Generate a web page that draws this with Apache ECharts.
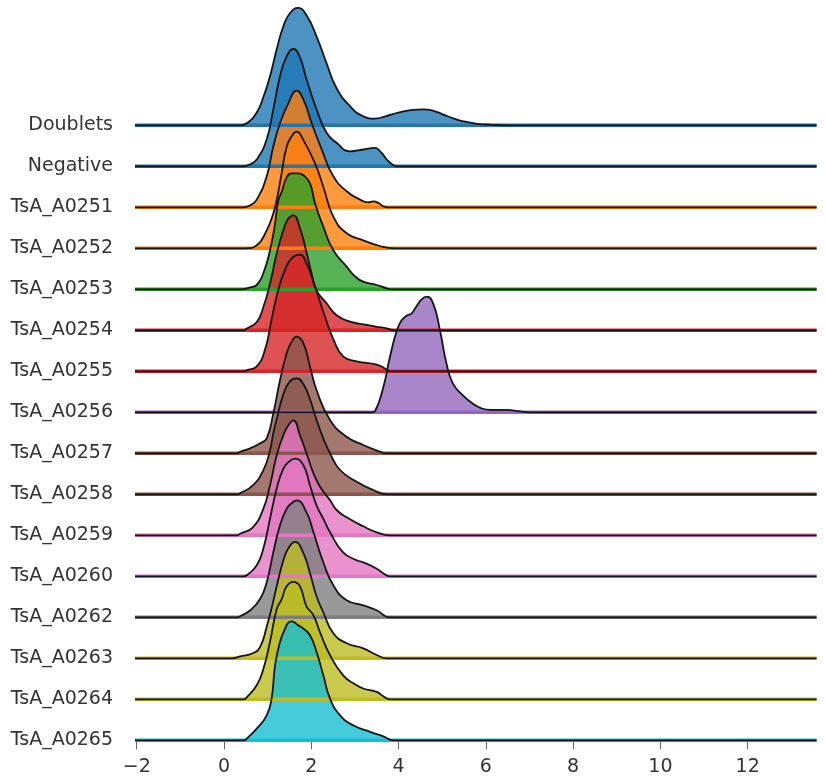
<!DOCTYPE html>
<html><head><meta charset="utf-8">
<script src="https://cdn.jsdelivr.net/npm/echarts@6/dist/echarts.min.js"></script>
<style>html,body{margin:0;padding:0;background:#fff}#c{width:825px;height:784px}</style>
</head><body><div id="c"></div>
<script>
// Row labels, top to bottom
const categories = ['Doublets','Negative','TsA_A0251','TsA_A0252','TsA_A0253','TsA_A0254','TsA_A0255','TsA_A0256',
  'TsA_A0257','TsA_A0258','TsA_A0259','TsA_A0260','TsA_A0262','TsA_A0263','TsA_A0264','TsA_A0265'];
const rowColors = ['#1f77b4','#1f77b4','#ff7f0e','#ff7f0e','#2ca02c','#d62728','#d62728','#9467bd',
  '#8c564b','#8c564b','#e377c2','#e377c2','#7f7f7f','#bcbd22','#bcbd22','#17becf'];
const X_MIN = -2.04, X_MAX = 13.58;
const xTicks = [-2, 0, 2, 4, 6, 8, 10, 12];
const ROW = 0.41; // vertical spacing between ridges, density units

// density curves as [x, density]
const doublets = [[0.37,0],[0.52,0.02],[0.75,0.127],[0.9,0.28],[1.054,0.49],[1.207,0.76],[1.36,0.99],[1.51,1.12],[1.70,1.174],[1.89,1.10],[2.12,0.89],[2.35,0.62],[2.58,0.37],[2.89,0.19],[3.19,0.09],[3.46,0.067],[3.70,0.09],[3.96,0.123],[4.25,0.15],[4.57,0.16],[4.8,0.145],[5.03,0.107],[5.25,0.07],[5.48,0.04],[5.8,0.015],[6.1,0.006],[6.5,0]];
const negative = [[0.44,0],[0.6,0.02],[0.75,0.068],[0.978,0.27],[1.13,0.57],[1.283,0.90],[1.436,1.10],[1.59,1.175],[1.74,1.09],[1.89,0.87],[2.12,0.57],[2.35,0.335],[2.58,0.235],[2.89,0.15],[3.19,0.168],[3.46,0.185],[3.6,0.14],[3.73,0.068],[3.85,0.02],[3.96,0]];
const a0251 = [[0.44,0],[0.6,0.02],[0.75,0.077],[0.978,0.31],[1.13,0.61],[1.283,0.84],[1.474,1.04],[1.665,1.167],[1.82,1.077],[2.01,0.84],[2.24,0.577],[2.505,0.31],[2.81,0.16],[3.116,0.077],[3.3,0.05],[3.42,0.06],[3.55,0.04],[3.65,0.01],[3.75,0]];
const a0252 = [[0.5,0],[0.75,0.03],[0.978,0.18],[1.13,0.35],[1.207,0.48],[1.32,0.75],[1.436,1.016],[1.55,1.12],[1.665,1.166],[1.82,1.08],[2.085,0.85],[2.275,0.616],[2.505,0.316],[2.81,0.15],[3.19,0.08],[3.57,0.023],[3.88,0]];
const a0253 = [[0.37,0],[0.6,0.02],[0.75,0.043],[0.90,0.16],[1.054,0.39],[1.17,0.66],[1.245,0.89],[1.32,0.97],[1.436,1.12],[1.55,1.16],[1.7,1.16],[1.82,1.14],[1.97,1.06],[2.085,0.86],[2.275,0.626],[2.505,0.39],[2.81,0.226],[3.0,0.13],[3.19,0.076],[3.5,0.043],[3.73,0.01],[3.85,0]];
const a0254 = [[0.45,0],[0.52,0.017],[0.75,0.083],[0.90,0.23],[1.054,0.467],[1.207,0.767],[1.36,1.0],[1.474,1.117],[1.59,1.15],[1.74,1.02],[1.89,0.78],[2.0,0.58],[2.12,0.40],[2.35,0.27],[2.58,0.15],[2.89,0.086],[3.27,0.053],[3.5,0.035],[3.73,0.02],[3.88,0]];
const a0255 = [[0.45,0],[0.52,0.01],[0.75,0.05],[0.94,0.217],[1.09,0.517],[1.245,0.817],[1.40,1.017],[1.55,1.13],[1.74,1.167],[1.89,1.08],[2.085,0.85],[2.31,0.55],[2.51,0.317],[2.73,0.15],[3.04,0.10],[3.5,0.067],[3.73,0.017],[3.8,0]];
const a0256 = [[3.40,0],[3.46,0.01],[3.65,0.25],[3.80,0.55],[3.96,0.817],[4.07,0.92],[4.19,0.967],[4.30,0.99],[4.41,1.06],[4.53,1.13],[4.645,1.157],[4.80,1.08],[4.95,0.817],[5.10,0.484],[5.25,0.284],[5.48,0.167],[5.71,0.084],[5.9,0.04],[6.10,0.024],[6.3,0.024],[6.48,0.024],[6.78,0.01],[7.0,0]];
const a0257 = [[0.3,0],[0.367,0.015],[0.6,0.05],[0.83,0.10],[0.978,0.15],[1.13,0.40],[1.283,0.73],[1.436,1.0],[1.55,1.117],[1.665,1.166],[1.82,1.10],[1.97,0.867],[2.12,0.633],[2.43,0.333],[2.81,0.166],[3.19,0.083],[3.57,0.017],[3.7,0]];
const a0258 = [[0.3,0],[0.367,0.01],[0.66,0.09],[0.90,0.24],[1.054,0.44],[1.13,0.61],[1.207,0.75],[1.36,1.0],[1.51,1.13],[1.665,1.16],[1.82,1.10],[1.97,0.95],[2.12,0.743],[2.275,0.56],[2.43,0.41],[2.66,0.243],[3.04,0.126],[3.42,0.043],[3.73,0]];
const a0259 = [[0.3,0],[0.367,0.015],[0.66,0.08],[0.90,0.265],[1.054,0.50],[1.207,0.80],[1.36,1.0],[1.474,1.10],[1.59,1.15],[1.74,1.0],[1.89,0.82],[2.05,0.62],[2.2,0.486],[2.43,0.35],[2.58,0.253],[2.81,0.18],[3.19,0.09],[3.5,0.03],[3.8,0]];
const a0260 = [[0.45,0],[0.52,0.01],[0.75,0.11],[0.90,0.276],[1.054,0.576],[1.207,0.876],[1.36,1.076],[1.5,1.15],[1.627,1.176],[1.82,1.11],[1.97,0.91],[2.12,0.71],[2.275,0.576],[2.43,0.44],[2.73,0.24],[3.04,0.16],[3.19,0.14],[3.5,0.076],[3.65,0.03],[3.80,0]];
const a0262 = [[0.3,0],[0.367,0.01],[0.6,0.07],[0.83,0.186],[0.978,0.35],[1.13,0.65],[1.283,0.92],[1.436,1.086],[1.55,1.14],[1.665,1.17],[1.89,1.05],[2.05,0.85],[2.275,0.55],[2.505,0.32],[2.81,0.17],[3.19,0.12],[3.5,0.07],[3.80,0]];
const a0263 = [[0.2,0],[0.367,0.02],[0.66,0.05],[0.83,0.116],[0.978,0.316],[1.09,0.50],[1.207,0.72],[1.36,0.98],[1.474,1.10],[1.627,1.164],[1.82,1.05],[1.97,0.85],[2.12,0.62],[2.275,0.46],[2.505,0.25],[2.81,0.15],[3.19,0.10],[3.5,0.033],[3.73,0]];
const a0264 = [[0.45,0],[0.52,0.02],[0.749,0.14],[0.90,0.30],[1.054,0.575],[1.207,0.90],[1.32,1.0],[1.436,1.13],[1.59,1.175],[1.74,1.13],[1.89,0.93],[2.05,0.84],[2.2,0.67],[2.43,0.44],[2.73,0.24],[3.0,0.15],[3.19,0.108],[3.5,0.075],[3.65,0.03],[3.8,0]];
const a0265 = [[0.45,0],[0.52,0.017],[0.749,0.117],[0.978,0.25],[1.09,0.417],[1.17,0.75],[1.283,0.984],[1.40,1.117],[1.474,1.177],[1.55,1.19],[1.7,1.15],[1.82,1.117],[1.97,1.05],[2.12,0.884],[2.275,0.65],[2.43,0.417],[2.66,0.25],[2.96,0.15],[3.35,0.084],[3.65,0.04],[3.88,0]];

const curves = [doublets, negative, a0251, a0252, a0253, a0254, a0255, a0256,
  a0257, a0258, a0259, a0260, a0262, a0263, a0264, a0265];

const n = categories.length;
const offsets = categories.map((_, i) => (n - 1 - i) * ROW);
const series = [];
categories.forEach((name, i) => {
  const off = offsets[i];
  const col = rowColors[i];
  const pts = [[X_MIN, 0]].concat(curves[i], [[X_MAX, 0]]).map(p => [p[0], p[1] + off]);
  series.push({
    type: 'line', data: [[X_MIN, off], [X_MAX, off]], symbol: 'none', silent: true, clip: false,
    lineStyle: { color: col, width: 3.5 }, animation: false
  });
  series.push({
    type: 'line', name: name, data: pts, smooth: 0.5, symbol: 'none', clip: false,
    lineStyle: { color: '#151515', width: 1.8, join: 'round' },
    areaStyle: { color: col, opacity: 0.8, origin: off }, animation: false
  });
});

const chart = echarts.init(document.getElementById('c'), null, { renderer: 'canvas' });
chart.setOption({
  animation: false,
  grid: { left: 135, right: 8.4, top: 0.3, bottom: 43.7, containLabel: false },
  xAxis: {
    type: 'value', min: X_MIN, max: X_MAX, offset: 2,
    axisLine: { show: false }, splitLine: { show: false },
    axisTick: { show: true, customValues: xTicks, length: 9, lineStyle: { color: '#666', width: 1 } },
    axisLabel: { customValues: xTicks, margin: 15, fontSize: 19, fontFamily: 'DejaVu Sans', color: '#333',
      formatter: v => (v < 0 ? '\u2212' + Math.abs(v) : String(v)) }
  },
  yAxis: {
    type: 'value', min: 0, max: 7.4,
    axisLine: { show: false }, splitLine: { show: false }, axisTick: { show: false },
    axisLabel: { customValues: offsets, margin: 22, fontSize: 19, fontFamily: 'DejaVu Sans', color: '#333',
      formatter: v => categories[n - 1 - Math.round(v / ROW)] }
  },
  series: series
});
</script></body></html>
